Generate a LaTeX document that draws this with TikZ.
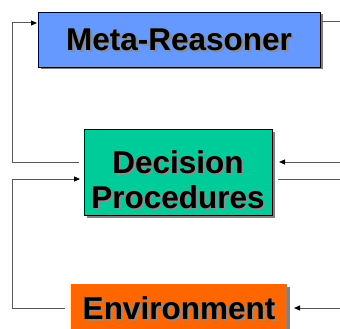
\documentclass[tikz,border=0pt]{standalone}
\usepackage{fontspec}
\setmainfont{Liberation Sans}
\usepackage{tikz}
\usetikzlibrary{arrows.meta}
\usetikzlibrary{shadows}

\definecolor{metablue}{HTML}{6699FF}
\definecolor{decgreen}{HTML}{00CC99}
\definecolor{envorange}{HTML}{FF6600}

\newcommand{\shtxt}[1]{\leavevmode\rlap{\hspace{2.5pt}\raisebox{-2.5pt}[0pt][0pt]{\color{black!45}#1}}#1}

\begin{document}
\begin{tikzpicture}[x=1pt,y=-1pt,
    box/.style={draw=black,line width=0.8pt,inner sep=0pt,align=center,
      drop shadow={shadow xshift=2.5pt,shadow yshift=-2.5pt,fill=black!50,opacity=1},
      font=\fontsize{31.5}{35}\selectfont\bfseries},
    link/.style={draw=black!65,line width=1pt},
    feed/.style={link,-{Triangle[length=6pt,width=5pt,black]}}]

      \useasboundingbox (0,0) rectangle (340,329);

      \node[box,fill=metablue,minimum width=282pt,minimum height=55pt]  (meta) at (179,39.5) {\shtxt{Meta-Reasoner}};
      \node[box,fill=decgreen,minimum width=188pt,minimum height=86pt]  (dec)  at (178,172)  {\rule{0pt}{38pt}\shtxt{Decision}\\\shtxt{Procedures}};
      \node[box,draw=none,fill=envorange,minimum width=216pt,minimum height=48pt] (env) at (179,308) {\shtxt{Environment}};

      % left loops
      \coordinate (metaIn)   at (37,23);
      \coordinate (railTop)  at (12,23);
      \coordinate (railMid)  at (12,162);
      \coordinate (decOutL)  at (79,162);
      \coordinate (decInL)   at (80,179);
      \coordinate (railLow)  at (12,179);
      \coordinate (railBot)  at (12,308);
      \coordinate (envOut)   at (65,308);

      % right side
      \coordinate (metaOut)  at (322,22);
      \coordinate (edgeA)    at (340,22);
      \coordinate (edgeB)    at (340,162);
      \coordinate (decInR)   at (279,162);
      \coordinate (decOutR)  at (278,179);
      \coordinate (edgeC)    at (340,179);
      \coordinate (edgeD)    at (340,308);
      \coordinate (envIn)    at (294,308);

      \draw[feed] (decOutL) -- (railMid) -- (railTop) -- (metaIn);
      \draw[feed] (envOut) -- (railBot) -- (railLow) -- (decInL);
      \draw (metaOut) edge[link] (edgeA);
      \draw (edgeB) edge[feed] (decInR);
      \draw (decOutR) edge[link] (edgeC);
      \draw (edgeD) edge[feed] (envIn);
\end{tikzpicture}
\end{document}
